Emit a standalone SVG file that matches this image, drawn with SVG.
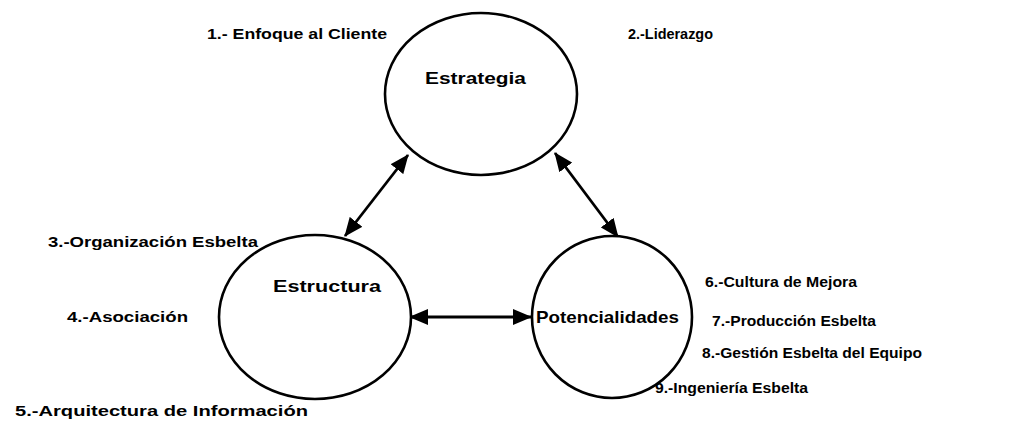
<svg xmlns="http://www.w3.org/2000/svg" width="1018" height="427" viewBox="0 0 1018 427">
<style>
.node{fill:#fff;stroke:#000;stroke-width:2.6}
.title{font-family:"Liberation Sans",Arial,sans-serif;font-weight:bold;font-size:16.5px;fill:#000}
.lbl{font-family:"Liberation Sans",Arial,sans-serif;font-weight:bold;font-size:14px;fill:#000}
.conn{stroke:#000;stroke-width:2.8;fill:none;marker-start:url(#ah);marker-end:url(#ah)}
</style>
<defs>
<marker id="ah" viewBox="0 0 19 16" refX="18" refY="8" markerWidth="19" markerHeight="16" orient="auto-start-reverse" markerUnits="userSpaceOnUse">
<path d="M0,0 L19,8 L0,16 z" fill="#000"/>
</marker>
</defs>
<rect width="1018" height="427" fill="#fff"/>
<g id="connectors">
<line class="conn" x1="345" y1="236" x2="408" y2="155"/>
<line class="conn" x1="555" y1="153" x2="618" y2="237"/>
<line class="conn" x1="410" y1="317" x2="531" y2="317"/>
</g>
<g id="estrategia">
<ellipse class="node" cx="481" cy="94" rx="96" ry="81"/>
<text class="title" x="425" y="84" textLength="101" lengthAdjust="spacingAndGlyphs">Estrategia</text>
</g>
<g id="estructura">
<ellipse class="node" cx="315" cy="317" rx="96" ry="82"/>
<text class="title" x="273" y="292" textLength="108" lengthAdjust="spacingAndGlyphs">Estructura</text>
</g>
<g id="potencialidades">
<ellipse class="node" cx="612" cy="317" rx="80" ry="81"/>
<text class="title" x="536" y="323" textLength="143" lengthAdjust="spacingAndGlyphs">Potencialidades</text>
</g>
<g id="labels">
<text class="lbl" x="207" y="39" textLength="180" lengthAdjust="spacingAndGlyphs">1.- Enfoque al Cliente</text>
<text class="lbl" x="628" y="39" textLength="85" lengthAdjust="spacingAndGlyphs">2.-Liderazgo</text>
<text class="lbl" x="48" y="247" textLength="210" lengthAdjust="spacingAndGlyphs">3.-Organización Esbelta</text>
<text class="lbl" x="67" y="322" textLength="121" lengthAdjust="spacingAndGlyphs">4.-Asociación</text>
<text class="lbl" x="15" y="416" textLength="293" lengthAdjust="spacingAndGlyphs">5.-Arquitectura de Información</text>
<text class="lbl" x="705" y="287" textLength="152" lengthAdjust="spacingAndGlyphs">6.-Cultura de Mejora</text>
<text class="lbl" x="712" y="326" textLength="164" lengthAdjust="spacingAndGlyphs">7.-Producción Esbelta</text>
<text class="lbl" x="702" y="358" textLength="220" lengthAdjust="spacingAndGlyphs">8.-Gestión Esbelta del Equipo</text>
<text class="lbl" x="655" y="393" textLength="153" lengthAdjust="spacingAndGlyphs">9.-Ingeniería Esbelta</text>
</g>
</svg>
